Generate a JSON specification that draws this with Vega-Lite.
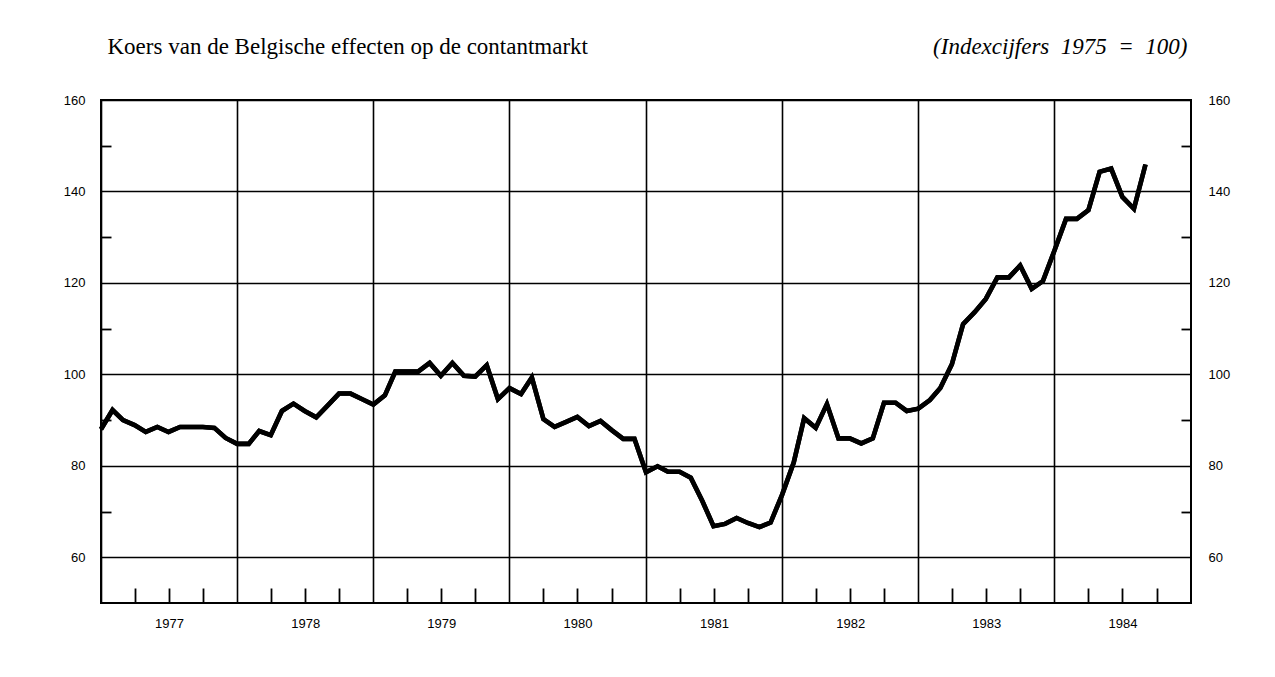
{
  "$schema": "https://vega.github.io/schema/vega-lite/v6.json",
  "autosize": {"type": "none"},
  "padding": {"left": 101, "top": 100, "right": 84, "bottom": 74},
  "width": 1090,
  "height": 503,
  "background": "white",
  "config": {
    "view": {"stroke": "black", "strokeWidth": 2},
    "axis": {
      "domain": false,
      "gridColor": "black",
      "gridWidth": 1.3,
      "tickColor": "black",
      "tickWidth": 1.8,
      "labelColor": "black",
      "labelFont": "Liberation Sans",
      "labelFontSize": 13,
      "titleColor": "black"
    }
  },
  "data": {
    "values": [
      {"date": "1977-01-01", "value": 88.0},
      {"date": "1977-02-01", "value": 92.2},
      {"date": "1977-03-01", "value": 90.0},
      {"date": "1977-04-01", "value": 88.9},
      {"date": "1977-05-01", "value": 87.4},
      {"date": "1977-06-01", "value": 88.5},
      {"date": "1977-07-01", "value": 87.4},
      {"date": "1977-08-01", "value": 88.5},
      {"date": "1977-09-01", "value": 88.5},
      {"date": "1977-10-01", "value": 88.5},
      {"date": "1977-11-01", "value": 88.3},
      {"date": "1977-12-01", "value": 86.1},
      {"date": "1978-01-01", "value": 84.8},
      {"date": "1978-02-01", "value": 84.8},
      {"date": "1978-03-01", "value": 87.6},
      {"date": "1978-04-01", "value": 86.7},
      {"date": "1978-05-01", "value": 92.0},
      {"date": "1978-06-01", "value": 93.6},
      {"date": "1978-07-01", "value": 92.0},
      {"date": "1978-08-01", "value": 90.6},
      {"date": "1978-09-01", "value": 93.2},
      {"date": "1978-10-01", "value": 95.8},
      {"date": "1978-11-01", "value": 95.8},
      {"date": "1978-12-01", "value": 94.6},
      {"date": "1979-01-01", "value": 93.4},
      {"date": "1979-02-01", "value": 95.4},
      {"date": "1979-03-01", "value": 100.6},
      {"date": "1979-04-01", "value": 100.6},
      {"date": "1979-05-01", "value": 100.6},
      {"date": "1979-06-01", "value": 102.5},
      {"date": "1979-07-01", "value": 99.7},
      {"date": "1979-08-01", "value": 102.5},
      {"date": "1979-09-01", "value": 99.7},
      {"date": "1979-10-01", "value": 99.5},
      {"date": "1979-11-01", "value": 102.0},
      {"date": "1979-12-01", "value": 94.6},
      {"date": "1980-01-01", "value": 97.0},
      {"date": "1980-02-01", "value": 95.7},
      {"date": "1980-03-01", "value": 99.3},
      {"date": "1980-04-01", "value": 90.2},
      {"date": "1980-05-01", "value": 88.5},
      {"date": "1980-06-01", "value": 89.6},
      {"date": "1980-07-01", "value": 90.7},
      {"date": "1980-08-01", "value": 88.7},
      {"date": "1980-09-01", "value": 89.8},
      {"date": "1980-10-01", "value": 87.8},
      {"date": "1980-11-01", "value": 85.9},
      {"date": "1980-12-01", "value": 85.9},
      {"date": "1981-01-01", "value": 78.6},
      {"date": "1981-02-01", "value": 79.9},
      {"date": "1981-03-01", "value": 78.7},
      {"date": "1981-04-01", "value": 78.7},
      {"date": "1981-05-01", "value": 77.4},
      {"date": "1981-06-01", "value": 72.3},
      {"date": "1981-07-01", "value": 66.8},
      {"date": "1981-08-01", "value": 67.3},
      {"date": "1981-09-01", "value": 68.6},
      {"date": "1981-10-01", "value": 67.5},
      {"date": "1981-11-01", "value": 66.6},
      {"date": "1981-12-01", "value": 67.6},
      {"date": "1982-01-01", "value": 73.7},
      {"date": "1982-02-01", "value": 80.7},
      {"date": "1982-03-01", "value": 90.4},
      {"date": "1982-04-01", "value": 88.3},
      {"date": "1982-05-01", "value": 93.5},
      {"date": "1982-06-01", "value": 86.0},
      {"date": "1982-07-01", "value": 86.0},
      {"date": "1982-08-01", "value": 84.9},
      {"date": "1982-09-01", "value": 86.0},
      {"date": "1982-10-01", "value": 93.8},
      {"date": "1982-11-01", "value": 93.8},
      {"date": "1982-12-01", "value": 92.0},
      {"date": "1983-01-01", "value": 92.5},
      {"date": "1983-02-01", "value": 94.4},
      {"date": "1983-03-01", "value": 97.0},
      {"date": "1983-04-01", "value": 102.2},
      {"date": "1983-05-01", "value": 111.0},
      {"date": "1983-06-01", "value": 113.6},
      {"date": "1983-07-01", "value": 116.5},
      {"date": "1983-08-01", "value": 121.2},
      {"date": "1983-09-01", "value": 121.2},
      {"date": "1983-10-01", "value": 123.8},
      {"date": "1983-11-01", "value": 118.7},
      {"date": "1983-12-01", "value": 120.4},
      {"date": "1984-01-01", "value": 127.1},
      {"date": "1984-02-01", "value": 134.0},
      {"date": "1984-03-01", "value": 134.0},
      {"date": "1984-04-01", "value": 135.9},
      {"date": "1984-05-01", "value": 144.3},
      {"date": "1984-06-01", "value": 145.0},
      {"date": "1984-07-01", "value": 138.8},
      {"date": "1984-08-01", "value": 136.2},
      {"date": "1984-09-01", "value": 145.9}
    ]
  },
  "encoding": {
    "x": {
      "field": "date",
      "type": "temporal",
      "scale": {"domain": [{"year": 1977, "month": 1, "date": 1}, {"year": 1985, "month": 1, "date": 1}]},
      "axis": {
        "orient": "bottom",
        "title": null,
        "values": [
          {"year": 1977, "month": 1, "date": 1}, {"year": 1977, "month": 4, "date": 1}, {"year": 1977, "month": 7, "date": 1}, {"year": 1977, "month": 10, "date": 1},
          {"year": 1978, "month": 1, "date": 1}, {"year": 1978, "month": 4, "date": 1}, {"year": 1978, "month": 7, "date": 1}, {"year": 1978, "month": 10, "date": 1},
          {"year": 1979, "month": 1, "date": 1}, {"year": 1979, "month": 4, "date": 1}, {"year": 1979, "month": 7, "date": 1}, {"year": 1979, "month": 10, "date": 1},
          {"year": 1980, "month": 1, "date": 1}, {"year": 1980, "month": 4, "date": 1}, {"year": 1980, "month": 7, "date": 1}, {"year": 1980, "month": 10, "date": 1},
          {"year": 1981, "month": 1, "date": 1}, {"year": 1981, "month": 4, "date": 1}, {"year": 1981, "month": 7, "date": 1}, {"year": 1981, "month": 10, "date": 1},
          {"year": 1982, "month": 1, "date": 1}, {"year": 1982, "month": 4, "date": 1}, {"year": 1982, "month": 7, "date": 1}, {"year": 1982, "month": 10, "date": 1},
          {"year": 1983, "month": 1, "date": 1}, {"year": 1983, "month": 4, "date": 1}, {"year": 1983, "month": 7, "date": 1}, {"year": 1983, "month": 10, "date": 1},
          {"year": 1984, "month": 1, "date": 1}, {"year": 1984, "month": 4, "date": 1}, {"year": 1984, "month": 7, "date": 1}, {"year": 1984, "month": 10, "date": 1}
        ],
        "grid": true,
        "gridWidth": 1.6,
        "gridOpacity": {"condition": {"test": "month(datum.value) === 0", "value": 1}, "value": 0},
        "ticks": true,
        "tickSize": -15,
        "tickOpacity": {"condition": {"test": "month(datum.value) === 0", "value": 0}, "value": 1},
        "labelExpr": "month(datum.value) === 0 ? timeFormat(datum.value, '%Y') : ''",
        "labelOffset": 68,
        "labelPadding": 29,
        "labelAlign": "center",
        "labelBaseline": "top",
        "labelFlush": false,
        "labelOverlap": false
      }
    }
  },
  "layer": [
    {
      "mark": {"type": "line", "color": "black", "strokeWidth": 4.6},
      "encoding": {
        "y": {
          "field": "value",
          "type": "quantitative",
          "scale": {"domain": [50, 160], "nice": false, "zero": false},
          "axis": {
            "orient": "left",
            "values": [60, 70, 80, 90, 100, 110, 120, 130, 140, 150, 160],
            "grid": true,
            "gridOpacity": {"condition": {"test": "datum.value % 20 === 0", "value": 1}, "value": 0},
            "ticks": true,
            "tickSize": -10,
            "tickOpacity": {"condition": {"test": "datum.value % 20 === 0", "value": 0}, "value": 1},
            "labelExpr": "datum.value % 20 === 0 ? datum.label : ''",
            "labelPadding": 26,
            "labelFlush": false,
            "labelOverlap": false,
            "title": "Koers van de Belgische effecten op de contantmarkt",
            "titleAngle": 0,
            "titleAlign": "left",
            "titleBaseline": "alphabetic",
            "titleX": 6,
            "titleY": -47,
            "titleFont": "Liberation Serif",
            "titleFontSize": 23,
            "titleFontWeight": "normal",
            "titleLimit": 2000
          }
        }
      }
    },
    {
      "mark": {"type": "line", "color": "black", "strokeWidth": 4.6},
      "encoding": {
        "y": {
          "field": "value",
          "type": "quantitative",
          "scale": {"domain": [50, 160], "nice": false, "zero": false},
          "axis": {
            "orient": "right",
            "values": [60, 70, 80, 90, 100, 110, 120, 130, 140, 150, 160],
            "grid": false,
            "ticks": true,
            "tickSize": -10,
            "tickOpacity": {"condition": {"test": "datum.value % 20 === 0", "value": 0}, "value": 1},
            "labelExpr": "datum.value % 20 === 0 ? datum.label : ''",
            "labelPadding": 27,
            "labelFlush": false,
            "labelOverlap": false,
            "title": "(Indexcijfers\u00a0 1975\u00a0 =\u00a0 100)",
            "titleAngle": 0,
            "titleAlign": "right",
            "titleBaseline": "alphabetic",
            "titleX": -4,
            "titleY": -47,
            "titleFont": "Liberation Serif",
            "titleFontSize": 23,
            "titleFontStyle": "italic",
            "titleFontWeight": "normal",
            "titleLimit": 2000
          }
        }
      }
    }
  ],
  "resolve": {"axis": {"y": "independent"}}
}
